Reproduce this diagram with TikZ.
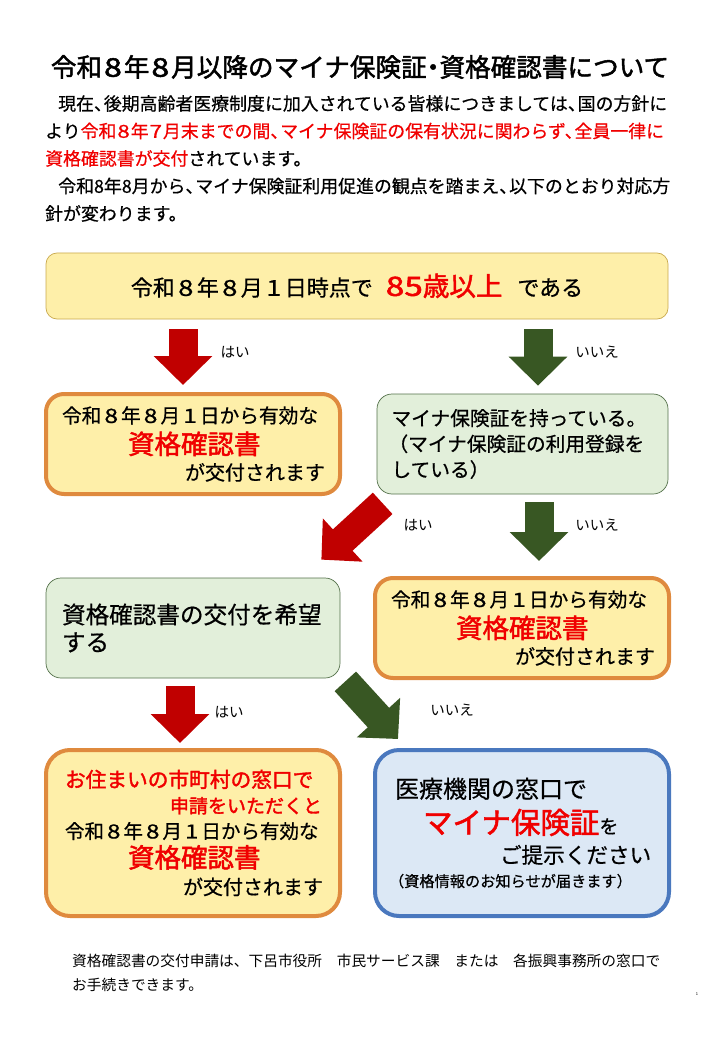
\documentclass[tikz,border=0pt]{standalone}
\usepackage{fontspec}
\setmainfont{Noto Sans CJK JP}[FakeBold=0.6]
\newfontfamily\plainjp{Noto Sans CJK JP}
\newfontfamily\heavyjp{Noto Sans CJK JP}[FakeBold=1.8]
\usepackage{tikz}
\usetikzlibrary{arrows.meta}
\usetikzlibrary{positioning}
\definecolor{paleyellow}{HTML}{FEEFA9}
\definecolor{palegreen}{HTML}{E2EFDA}
\definecolor{paleblue}{HTML}{DCE8F5}
\definecolor{edgeorange}{HTML}{DF8A3E}
\definecolor{edgeblue}{HTML}{4A78BE}
\definecolor{edgegreen}{HTML}{54714A}
\definecolor{edgetan}{HTML}{C9A94E}
\definecolor{yesred}{HTML}{C00000}
\definecolor{nogreen}{HTML}{385723}
\definecolor{alertred}{HTML}{F00000}
\newcommand{\fs}[1]{\fontsize{#1}{#1}\selectfont}
\newcommand{\tou}{、\hspace{-0.45em}}
\newcommand{\dg}[2][1em]{\makebox[#1]{\scalebox{1.25}[1]{#2}}}
\tikzstyle{yesarrow} = [line width=29pt,yesred,-{Triangle[width=57pt,length=29pt]}]
\tikzstyle{noarrow} = [line width=29pt,nogreen,-{Triangle[width=57pt,length=29pt]}]
\tikzstyle{ans} = [font=\plainjp\fs{14.5}, inner sep=0pt]
\tikzstyle{panel} = [rectangle, minimum width=294pt, minimum height=100pt, text width=262pt, align=left, inner sep=0pt]
\tikzstyle{quest} = [panel, rounded corners=15pt, fill=palegreen, draw=edgegreen, line width=0.7pt]
\tikzstyle{result} = [panel, rounded corners=18pt, fill=paleyellow, draw=edgeorange, line width=4pt]

\begin{document}
\begin{tikzpicture}[x=1pt, y=-1pt, node distance=100pt]
		\useasboundingbox (0,0) rectangle (720,1040);
		\node (title) [inner sep=0pt] at (360,67) {\fs{25.6}\heavyjp 令和\dg[0.85em]{8}年\dg[0.85em]{8}月以降のマイナ保険証\hspace{-0.25em}・\hspace{-0.25em}資格確認書について};
		\node (para) [inner sep=0pt, anchor=north west, align=left, font=\fontsize{17.9}{27.5}\selectfont] at (45,95) {
			\hspace*{13pt}現在\tou 後期高齢者医療制度に加入されている皆様につきましては\tou 国の方針に\\
			より\textcolor{alertred}{令和\dg[0.8em]{8}年\dg[0.8em]{7}月末までの間\tou マイナ保険証の保有状況に関わらず\tou 全員一律に}\\
			\textcolor{alertred}{資格確認書が交付}されています。\\
			\hspace*{13pt}令和8年8月から\tou マイナ保険証利用促進の観点を踏まえ\tou 以下のとおり対応方\\
			針が変わります。};
		\node (top) [rectangle, rounded corners=11pt, minimum width=622pt, minimum height=66pt, inner sep=0pt, fill=paleyellow, draw=edgetan, line width=0.7pt] at (357,286) {\raisebox{2.5pt}{\fs{22}令和\dg{8}年\dg{8}月\dg{1}日時点で\hspace{13pt}{\fs{26.5}\heavyjp\color{alertred}\dg[0.7em]{8}\dg[0.7em]{5}歳以上}\hspace{15pt}\fs{22}である}};
		\node (yes1) [result, below of=top, xshift=-164pt, yshift=-58pt] {\fs{19.7}令和\dg{8}年\dg{8}月\dg{1}日から有効な\\[6pt]
			\hspace*{66pt}{\fs{26.5}\heavyjp\color{alertred}資格確認書}\\[6pt]
			\hspace*{123pt}\fs{20}が交付されます};
		\node (card) [quest, minimum width=291pt, right of=yes1, xshift=229.5pt] {\fs{19.7}マイナ保険証を持っている。\\[6pt]
			\hspace*{-3pt}（マイナ保険証の利用登録を\\[6pt]
			している）};
		\node (want) [quest, below of=yes1, yshift=-84pt] {\fs{23.6}資格確認書の交付を希望\\[6pt]
			する};
		\node (ok2) [result, right of=want, xshift=229pt] {\fs{19.7}令和\dg{8}年\dg{8}月\dg{1}日から有効な\\[6pt]
			\hspace*{65pt}{\fs{26.5}\heavyjp\color{alertred}資格確認書}\\[6pt]
			\hspace*{124pt}\fs{20}が交付されます};
		\node (apply) [result, rounded corners=24pt, minimum height=166pt, below of=want, yshift=-105pt] {\hspace*{3pt}{\fs{20.7}\heavyjp\color{alertred}お住まいの市町村の窓口で}\\[7pt]
			\hspace*{108pt}{\fs{19}\heavyjp\color{alertred}申請をいただくと}\\[6pt]
			\hspace*{3pt}\fs{19.5}令和\dg{8}年\dg{8}月\dg{1}日から有効な\\[4pt]
			\hspace*{66pt}{\fs{26.5}\heavyjp\color{alertred}資格確認書}\\[7pt]
			\hspace*{121pt}\fs{20}が交付されます};
		\node (show) [result, rounded corners=24pt, minimum height=166pt, fill=paleblue, draw=edgeblue, right of=apply, xshift=229pt] {\hspace*{4pt}\fs{24}医療機関の窓口で\\[8pt]
			\hspace*{32pt}{\fs{29.5}\heavyjp\color{alertred}マイナ保険証}{\fs{19}を}\\[8pt]
			\hspace*{109pt}\fs{21.6}ご提示ください\\[8pt]
			\hspace*{-2pt}\fs{15.2}（資格情報のお知らせが届きます）};
		\node (note) [inner sep=0pt, anchor=north west, align=left, font=\plainjp\fontsize{14.7}{24}\selectfont] at (72,954) {資格確認書の交付申請は、下呂市役所　市民サービス課　または　各振興事務所の窓口で\\
			お手続きできます。};
		\node (pagenum) [inner sep=0pt, font=\plainjp\fs{4}] at (697,994) {1};
		\draw [yesarrow] ([xshift=-174pt,yshift=-10pt]top.south) -- ([xshift=-10pt,yshift=7pt]yes1.north);
		\draw [noarrow] ([xshift=181pt,yshift=-10pt]top.south) -- ([xshift=15.5pt,yshift=8pt]card.north);
		\draw [yesarrow] ([xshift=6pt,yshift=-9pt]card.south west) -- ([xshift=-19pt,yshift=18pt]want.north east);
		\draw [noarrow] ([xshift=16.5pt,yshift=-8pt]card.south) -- ([xshift=17pt,yshift=15pt]ok2.north);
		\draw [yesarrow] ([xshift=-13pt,yshift=-8pt]want.south) -- ([xshift=-13pt,yshift=5pt]apply.north);
		\draw [noarrow] ([xshift=5pt,yshift=-3pt]want.south east) -- ([xshift=25pt,yshift=9pt]show.north west);
		\node (hai1) [ans] at (235,352) {はい};
		\node (iie1) [ans] at (597,352) {いいえ};
		\node (hai2) [ans] at (418,525) {はい};
		\node (iie2) [ans] at (597,525) {いいえ};
		\node (hai3) [ans] at (229,712) {はい};
		\node (iie3) [ans] at (452,710) {いいえ};
\end{tikzpicture}
\end{document}
